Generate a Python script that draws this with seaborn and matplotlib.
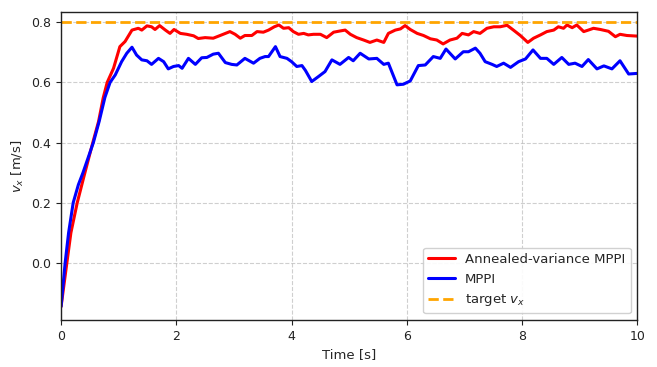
import matplotlib
matplotlib.use("Agg")
import matplotlib.pyplot as plt
import seaborn as sns
import pandas as pd

# values
t_annealed = [0, 0.1, 0.17, 0.28, 0.40, 0.55, 0.65, 0.73, 0.80, 0.91, 1.02, 1.11, 1.23,
              1.34, 1.40, 1.49, 1.57, 1.63, 1.71, 1.81, 1.89, 1.96, 2.07,
              2.18, 2.30, 2.38, 2.50, 2.64, 2.76, 2.93, 3.02, 3.11, 3.19,
              3.31, 3.40, 3.51, 3.60, 3.70, 3.78, 3.86, 3.95, 4.03, 4.12,
              4.21, 4.29, 4.38, 4.50, 4.61, 4.73, 4.84, 4.93, 5.02, 5.13,
              5.25, 5.36, 5.48, 5.60, 5.68, 5.80, 5.89, 5.97, 6.06, 6.18,
              6.29, 6.41, 6.52, 6.63, 6.75, 6.87, 6.96, 7.07, 7.16, 7.27,
              7.39, 7.51, 7.62, 7.74, 7.85, 7.97, 8.10, 8.20, 8.32, 8.43,
              8.55, 8.63, 8.72, 8.78, 8.87, 8.95, 9.07, 9.15, 9.24, 9.36,
              9.50, 9.62, 9.70, 9.82, 10.0]
v_annealed = [-0.145, 0.0, 0.1, 0.2, 0.29, 0.4, 0.47, 0.548, 0.6, 0.647, 0.719, 0.736, 0.774,
              0.780, 0.774, 0.788, 0.785, 0.776, 0.789, 0.774, 0.763, 0.776, 0.763,
              0.760, 0.755, 0.746, 0.749, 0.747, 0.756, 0.769, 0.760, 0.747, 0.756,
              0.756, 0.769, 0.767, 0.774, 0.785, 0.791, 0.780, 0.782, 0.769, 0.760,
              0.763, 0.758, 0.760, 0.760, 0.749, 0.767, 0.771, 0.774, 0.760, 0.749,
              0.741, 0.733, 0.741, 0.733, 0.763, 0.774, 0.778, 0.789, 0.776, 0.763,
              0.756, 0.745, 0.741, 0.728, 0.741, 0.747, 0.763, 0.758, 0.769, 0.763,
              0.780, 0.785, 0.785, 0.790, 0.774, 0.756, 0.733, 0.747, 0.758, 0.769,
              0.774, 0.785, 0.780, 0.791, 0.782, 0.791, 0.769, 0.774, 0.780, 0.776,
              0.770, 0.752, 0.760, 0.756, 0.754]

t_mppi = [0, 0.07, 0.13, 0.21, 0.30, 0.38, 0.47, 0.56, 0.66, 0.76, 0.85, 0.94, 1.05, 1.14,
          1.23, 1.31, 1.40, 1.49, 1.57, 1.69, 1.78, 1.86, 1.95, 2.04,
          2.10, 2.21, 2.33, 2.44, 2.53, 2.64, 2.73, 2.85, 2.96, 3.05,
          3.19, 3.34, 3.45, 3.54, 3.60, 3.72, 3.80, 3.92, 4.00, 4.09,
          4.18, 4.24, 4.35, 4.47, 4.58, 4.70, 4.84, 4.99, 5.07, 5.19,
          5.34, 5.48, 5.60, 5.68, 5.83, 5.94, 6.06, 6.20, 6.32, 6.46,
          6.58, 6.68, 6.84, 6.98, 7.07, 7.19, 7.27, 7.36, 7.48, 7.56,
          7.68, 7.80, 7.94, 8.06, 8.19, 8.32, 8.43, 8.55, 8.69, 8.81,
          8.92, 9.04, 9.15, 9.30, 9.42, 9.56, 9.70, 9.85, 10.0]
v_mppi = [-0.145, 0.0, 0.1, 0.2, 0.26, 0.3, 0.35, 0.4, 0.47, 0.55, 0.60, 0.625, 0.669, 0.697,
          0.717, 0.691, 0.675, 0.672, 0.660, 0.680, 0.669, 0.645, 0.653, 0.656,
          0.647, 0.680, 0.660, 0.682, 0.683, 0.694, 0.697, 0.666, 0.660, 0.658,
          0.680, 0.664, 0.680, 0.686, 0.686, 0.719, 0.686, 0.680, 0.669, 0.653,
          0.656, 0.640, 0.603, 0.620, 0.636, 0.675, 0.660, 0.683, 0.672, 0.697,
          0.678, 0.680, 0.660, 0.664, 0.592, 0.594, 0.605, 0.656, 0.658, 0.686,
          0.680, 0.711, 0.678, 0.702, 0.702, 0.714, 0.697, 0.669, 0.660, 0.653,
          0.664, 0.650, 0.669, 0.678, 0.708, 0.680, 0.680, 0.660, 0.683, 0.660,
          0.664, 0.653, 0.676, 0.645, 0.655, 0.645, 0.672, 0.628, 0.630]

target_vx = 0.8

df_annealed = pd.DataFrame({"t": t_annealed, "v": v_annealed})
df_mppi = pd.DataFrame({"t": t_mppi, "v": v_mppi})

sns.set_style("white")
plt.rcParams["font.family"] = ["DejaVu Sans"]

fig, ax = plt.subplots(figsize=(6.57, 3.67), dpi=100)
fig.subplots_adjust(left=0.093, right=0.97, top=0.968, bottom=0.128)

sns.lineplot(data=df_annealed, x="t", y="v", ax=ax, color="red", linewidth=2.2,
             label="Annealed-variance MPPI")
sns.lineplot(data=df_mppi, x="t", y="v", ax=ax, color="blue", linewidth=2.2,
             label="MPPI")
ax.axhline(target_vx, color="orange", linestyle="--", linewidth=2,
           label="target $v_x$")

ax.set_xlim(0, 10)
ax.set_ylim(-0.19, 0.835)
ax.set_xticks([0, 2, 4, 6, 8, 10])
ax.set_yticks([0.0, 0.2, 0.4, 0.6, 0.8])
ax.set_yticklabels(["0.0", "0.2", "0.4", "0.6", "0.8"])
ax.grid(True, linestyle="--", color="#bbbbbb", alpha=0.7, linewidth=0.8)
ax.tick_params(axis="both", labelsize=9, length=3.5, width=0.8, direction="out",
               bottom=True, left=True, colors="#222222")
for s in ax.spines.values():
    s.set_color("#222222")
    s.set_linewidth(1.0)

ax.set_xlabel("Time [s]", fontsize=9.5)
ax.set_ylabel("$v_x$ [m/s]", fontsize=9.5)
ax.legend(loc="lower right", fontsize=9.5, frameon=True, framealpha=0.9,
          edgecolor="#cccccc")

fig.savefig("out.png", dpi=100)
plt.close(fig)
